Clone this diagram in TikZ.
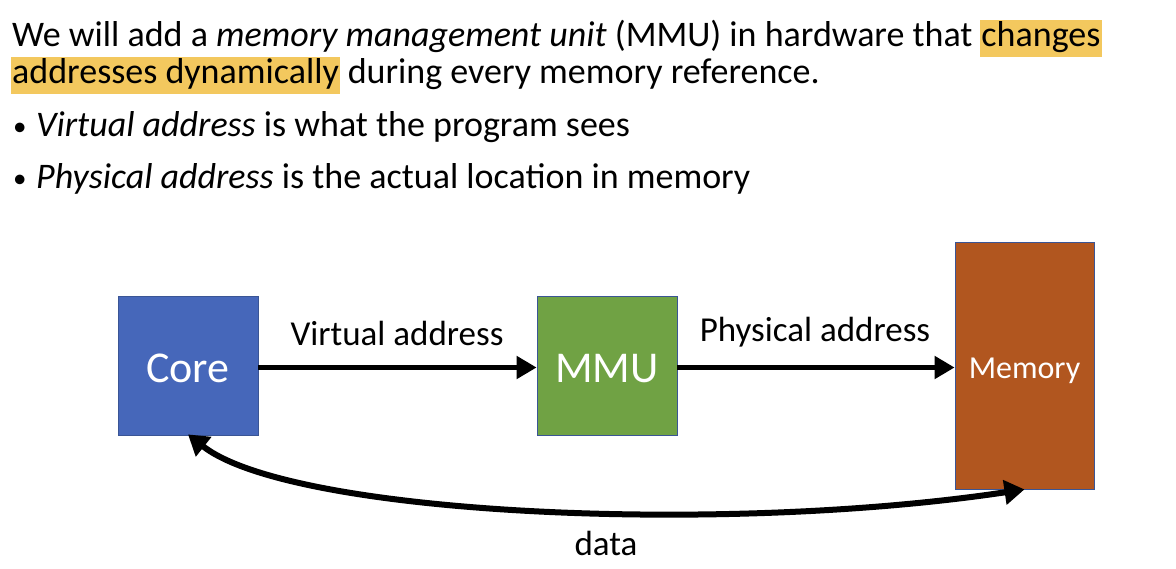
\documentclass[tikz,border=0pt]{standalone}
\usepackage{fontspec}
\setmainfont{Carlito}
\usetikzlibrary{arrows.meta}
\definecolor{coreblue}{HTML}{4667BA}
\definecolor{mmugreen}{HTML}{70A244}
\definecolor{memorange}{HTML}{B1561F}
\definecolor{boxline}{HTML}{3A5595}
\definecolor{hilite}{HTML}{F3C85E}
\newcommand{\fsz}[1]{\fontsize{#1}{#1}\selectfont}
\newcommand{\lowertext}[2]{\raisebox{-#1}[\height][\depth]{#2}}
\tikzset{
  bodytext/.style={anchor=base west, inner sep=0pt, font=\fsz{36}},
  bulletmark/.style={anchor=base west, inner sep=0pt, font=\fsz{27}},
  hlbox/.style={bodytext, fill=hilite, inner xsep=1.5pt, text height=26pt, text depth=9pt, inner ysep=1pt},
  unitbox/.style={draw=boxline, line width=0.8pt, text=white, inner sep=0pt},
  flowarrow/.style={line width=5pt, -{Triangle[length=20pt,width=22pt]}},
  dataarrow/.style={line width=6pt, {Triangle[length=20pt,width=24pt]}-{Triangle[length=20pt,width=24pt]}},
  lbl/.style={inner sep=0pt, font=\fsz{35}}
}
\begin{document}
\begin{tikzpicture}[x=1pt,y=-1pt]
\useasboundingbox (0,0) rectangle (1176,569);
% top text
\node[bodytext] (l1) at (12,47) {We will add a \textit{memory management unit} (MMU) in hardware that};
\node[hlbox] (hl1) at ([xshift=7pt]l1.base east) {changes};
\node[hlbox] (hl2) at (10.5,84) {addresses dynamically};
\node[bodytext] (l2) at ([xshift=7pt]hl2.base east) {during every memory reference.};
\node[bulletmark] (b1) at (13,136) {•};
\node[bodytext] (l3) at (36,137) {\textit{Virtual address} is what the program sees};
\node[bulletmark] (b2) at (13,188) {•};
\node[bodytext] (l4) at (36,189) {\textit{Physical address} is the actual location in memory};
% units
\node[unitbox, fill=coreblue, minimum width=140pt, minimum height=139pt, font=\fsz{44}] (core) at (188,365.5) {\lowertext{3pt}{Core}};
\node[unitbox, fill=mmugreen, minimum width=140pt, minimum height=139pt, font=\fsz{44}] (mmu) at (607,365.5) {\lowertext{3pt}{MMU}};
\node[unitbox, fill=memorange, minimum width=139pt, minimum height=247pt, font=\fsz{32}] (mem) at (1024.5,365.5) {\lowertext{5pt}{Memory}};
% arrows
\draw[flowarrow] ([yshift=-2pt]core.east) -- ([yshift=-2pt]mmu.west);
\draw[flowarrow] ([yshift=-2pt]mmu.east) -- ([yshift=-2pt]mem.west);
\node[lbl] (va) at (397,333) {Virtual address};
\node[lbl] (pa) at (815,332) {Physical address};
\draw[dataarrow] ([yshift=1pt]core.south) .. controls (290,515) and (720,535) .. (mem.south);
\node[lbl] (data) at (606,543) {data};
\end{tikzpicture}
\end{document}
